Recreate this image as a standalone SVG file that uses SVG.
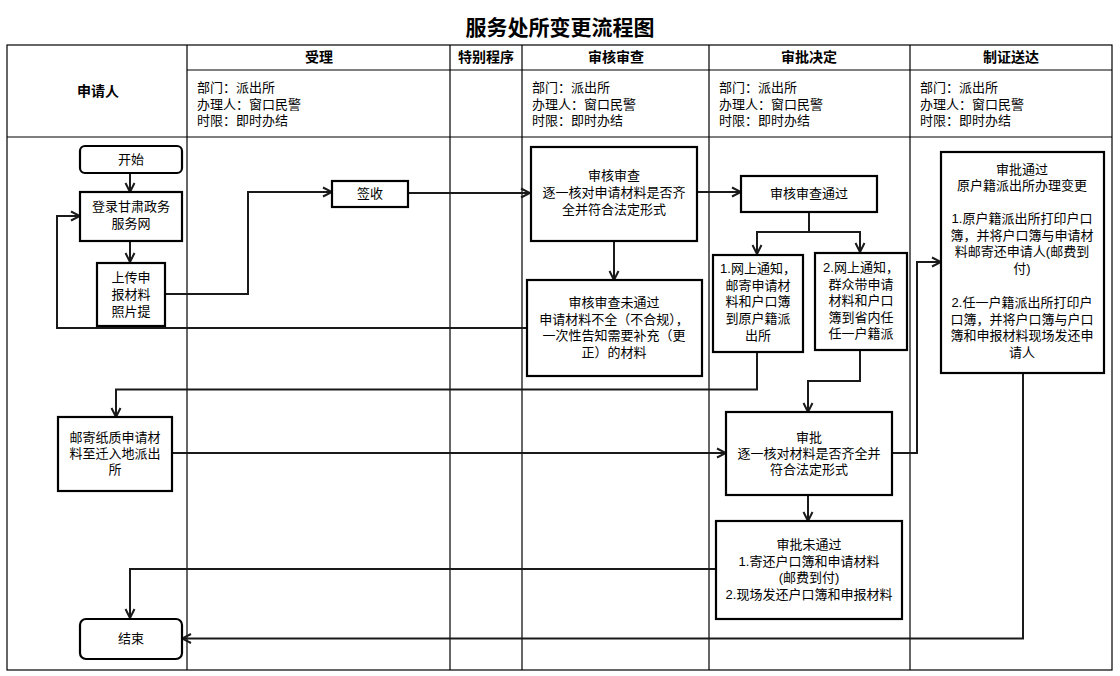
<svg xmlns="http://www.w3.org/2000/svg" width="1120" height="676" viewBox="0 0 1120 676">
<style>
text{font-family:"Liberation Sans","Noto Sans CJK SC",sans-serif;font-size:13px;fill:#000;dominant-baseline:central}
.c{text-anchor:middle}
.h{font-weight:bold;font-size:14px}
.title{font-weight:bold;font-size:21px}
.tbl{fill:none;stroke:#000;stroke-width:1.2}
.box{fill:#fff;stroke:#000;stroke-width:2.2}
.cn{fill:none;stroke:#1a1a1a;stroke-width:2;marker-end:url(#a)}
</style>
<defs>
<marker id="a" markerUnits="userSpaceOnUse" viewBox="0 0 12 12" refX="11" refY="6" markerWidth="12" markerHeight="12" orient="auto">
<path d="M2,1.5 L11,6 L2,10.5" fill="none" stroke="#1a1a1a" stroke-width="2"/>
</marker>
</defs>
<rect width="1120" height="676" fill="#fff"/>
<text class="title c" x="560" y="27">服务处所变更流程图</text>
<g id="table">
<rect class="tbl" x="7" y="45" width="1105" height="625"/>
<path class="tbl" d="M187,70H1112M7,137H1112M187,45V670M450,45V670M522,45V670M709,45V670M910,45V670"/>
<text class="h c" x="98" y="91">申请人</text>
<text class="h c" x="319" y="57">受理</text>
<text class="h c" x="486" y="57">特别程序</text>
<text class="h c" x="616" y="57">审核审查</text>
<text class="h c" x="809" y="57">审批决定</text>
<text class="h c" x="1011" y="57">制证送达</text>
<text x="197" y="87">部门：派出所<tspan x="197" dy="16.5">办理人：窗口民警</tspan><tspan x="197" dy="16.5">时限：即时办结</tspan></text>
<text x="532" y="87">部门：派出所<tspan x="532" dy="16.5">办理人：窗口民警</tspan><tspan x="532" dy="16.5">时限：即时办结</tspan></text>
<text x="719" y="87">部门：派出所<tspan x="719" dy="16.5">办理人：窗口民警</tspan><tspan x="719" dy="16.5">时限：即时办结</tspan></text>
<text x="920" y="87">部门：派出所<tspan x="920" dy="16.5">办理人：窗口民警</tspan><tspan x="920" dy="16.5">时限：即时办结</tspan></text>
</g>
<g id="connectors">
<path class="cn" d="M130,173V192"/>
<path class="cn" d="M130,241V262"/>
<path class="cn" d="M165,294H248V192H332"/>
<path class="cn" d="M408,193H530"/>
<path class="cn" d="M697,192H741"/>
<path class="cn" d="M614,241V280"/>
<path class="cn" d="M527,328H57V216H80"/>
<path class="cn" d="M809,212V232H757V254"/>
<path class="cn" d="M809,232H860V252"/>
<path class="cn" d="M757,352V389.5H116V417"/>
<path class="cn" d="M860,350V381H808V412"/>
<path class="cn" d="M172,453H726"/>
<path class="cn" d="M892,453H917V262H941"/>
<path class="cn" d="M808,495V521"/>
<path class="cn" d="M716,569H130V618"/>
<path class="cn" d="M1023,373V638.5H182"/>
</g>
<g id="start"><rect class="box" x="80" y="146" width="102" height="27" rx="5"/><text class="c" x="131" y="159">开始</text></g>
<g id="login"><rect class="box" x="80" y="192" width="102" height="49"/><text class="c" x="131" y="206">登录甘肃政务<tspan x="131" dy="17">服务网</tspan></text></g>
<g id="upload"><rect class="box" x="97" y="263" width="68" height="63"/><text class="c" x="131" y="277">上传申<tspan x="131" dy="17">报材料</tspan><tspan x="131" dy="17">照片提</tspan></text></g>
<g id="sign"><rect class="box" x="332" y="181" width="76" height="26"/><text class="c" x="370" y="193">签收</text></g>
<g id="review"><rect class="box" x="531" y="147" width="166" height="94"/><text class="c" x="614" y="175">审核审查<tspan x="614" dy="17">逐一核对申请材料是否齐</tspan><tspan x="614" dy="17">全并符合法定形式</tspan></text></g>
<g id="review-fail"><rect class="box" x="527" y="280" width="175" height="96"/><text class="c" x="614" y="302">审核审查未通过<tspan x="614" dy="16.7">申请材料不全（不合规），</tspan><tspan x="614" dy="16.7">一次性告知需要补充（更</tspan><tspan x="614" dy="16.7">正）的材料</tspan></text></g>
<g id="review-pass"><rect class="box" x="741" y="176" width="136" height="36"/><text class="c" x="809" y="193">审核审查通过</text></g>
<g id="notify1"><rect class="box" x="713" y="255" width="90" height="97"/><text class="c" x="758" y="268">1.网上通知，<tspan x="758" dy="16.7">邮寄申请材</tspan><tspan x="758" dy="16.7">料和户口簿</tspan><tspan x="758" dy="16.7">到原户籍派</tspan><tspan x="758" dy="16.7">出所</tspan></text></g>
<g id="notify2"><rect class="box" x="815" y="253" width="92" height="97"/><text class="c" x="861" y="267">2.网上通知，<tspan x="861" dy="16.6">群众带申请</tspan><tspan x="861" dy="16.6">材料和户口</tspan><tspan x="861" dy="16.6">簿到省内任</tspan><tspan x="861" dy="16.6">任一户籍派</tspan></text></g>
<g id="approve-pass"><rect class="box" x="941" y="152" width="163" height="221"/>
<text class="c" x="1022" y="169">审批通过<tspan x="1022" dy="16">原户籍派出所办理变更</tspan><tspan x="1022" dy="33">1.原户籍派出所打印户口</tspan><tspan x="1022" dy="16.5">簿，并将户口簿与申请材</tspan><tspan x="1022" dy="16.5">料邮寄还申请人(邮费到</tspan><tspan x="1022" dy="16.5">付)</tspan><tspan x="1022" dy="34.5">2.任一户籍派出所打印户</tspan><tspan x="1022" dy="16.5">口簿，并将户口簿与户口</tspan><tspan x="1022" dy="16.5">簿和申报材料现场发还申</tspan><tspan x="1022" dy="16.5">请人</tspan></text></g>
<g id="mail"><rect class="box" x="58" y="417" width="114" height="74"/><text class="c" x="115" y="437">邮寄纸质申请材<tspan x="115" dy="16">料至迁入地派出</tspan><tspan x="115" dy="16">所</tspan></text></g>
<g id="approve"><rect class="box" x="726" y="412" width="166" height="83"/><text class="c" x="809" y="437">审批<tspan x="809" dy="16">逐一核对材料是否齐全并</tspan><tspan x="809" dy="16">符合法定形式</tspan></text></g>
<g id="approve-fail"><rect class="box" x="716" y="521" width="186" height="98"/><text class="c" x="809" y="544">审批未通过<tspan x="809" dy="16.5">1.寄还户口簿和申请材料</tspan><tspan x="809" dy="16.5">(邮费到付)</tspan><tspan x="809" dy="16.5">2.现场发还户口簿和申报材料</tspan></text></g>
<g id="end"><rect class="box" x="80" y="619" width="102" height="40" rx="6"/><text class="c" x="131" y="638">结束</text></g>
</svg>
